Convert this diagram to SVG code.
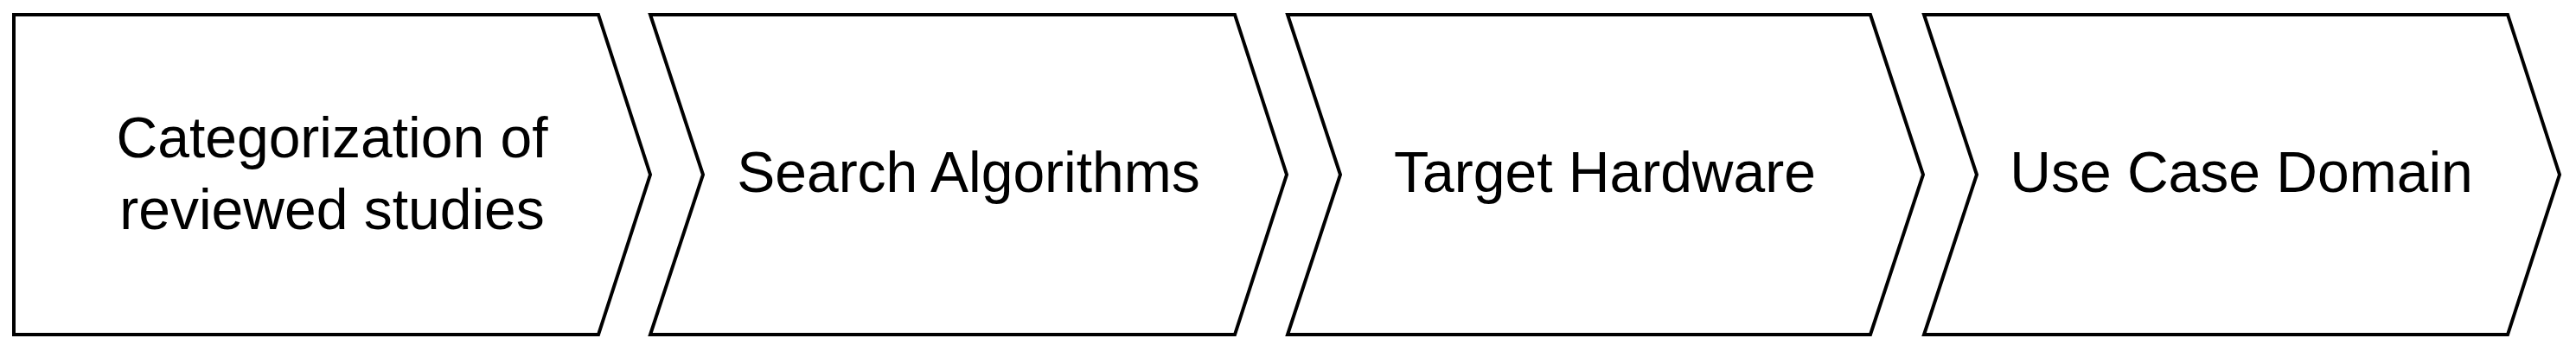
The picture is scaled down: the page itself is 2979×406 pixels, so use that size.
<svg xmlns="http://www.w3.org/2000/svg" width="2979" height="406" viewBox="0 0 2979 406">
<style>
.shape{fill:#ffffff;stroke:#000000;stroke-width:4;stroke-linejoin:miter}
.label{font-family:"Liberation Sans",Arial,sans-serif;font-size:66px;fill:#000000;text-anchor:middle}
</style>
<rect x="0" y="0" width="2979" height="406" fill="#ffffff"/>
<g id="node-categorization">
<polygon class="shape" points="16,17 692,17 752,202 692,387 16,387"/>
<text class="label" x="384" y="182">Categorization of</text>
<text class="label" x="384" y="265">reviewed studies</text>
</g>
<g id="node-search">
<polygon class="shape" points="752,17 1428,17 1488,202 1428,387 752,387 813,202"/>
<text class="label" x="1120" y="222">Search Algorithms</text>
</g>
<g id="node-hardware">
<polygon class="shape" points="1489,17 2163,17 2224,202 2163,387 1489,387 1550,202"/>
<text class="label" x="1856" y="222">Target Hardware</text>
</g>
<g id="node-usecase">
<polygon class="shape" points="2225,17 2900,17 2960,202 2900,387 2225,387 2286,202"/>
<text class="label" x="2592" y="222">Use Case Domain</text>
</g>
<g id="connectors"></g>
</svg>
